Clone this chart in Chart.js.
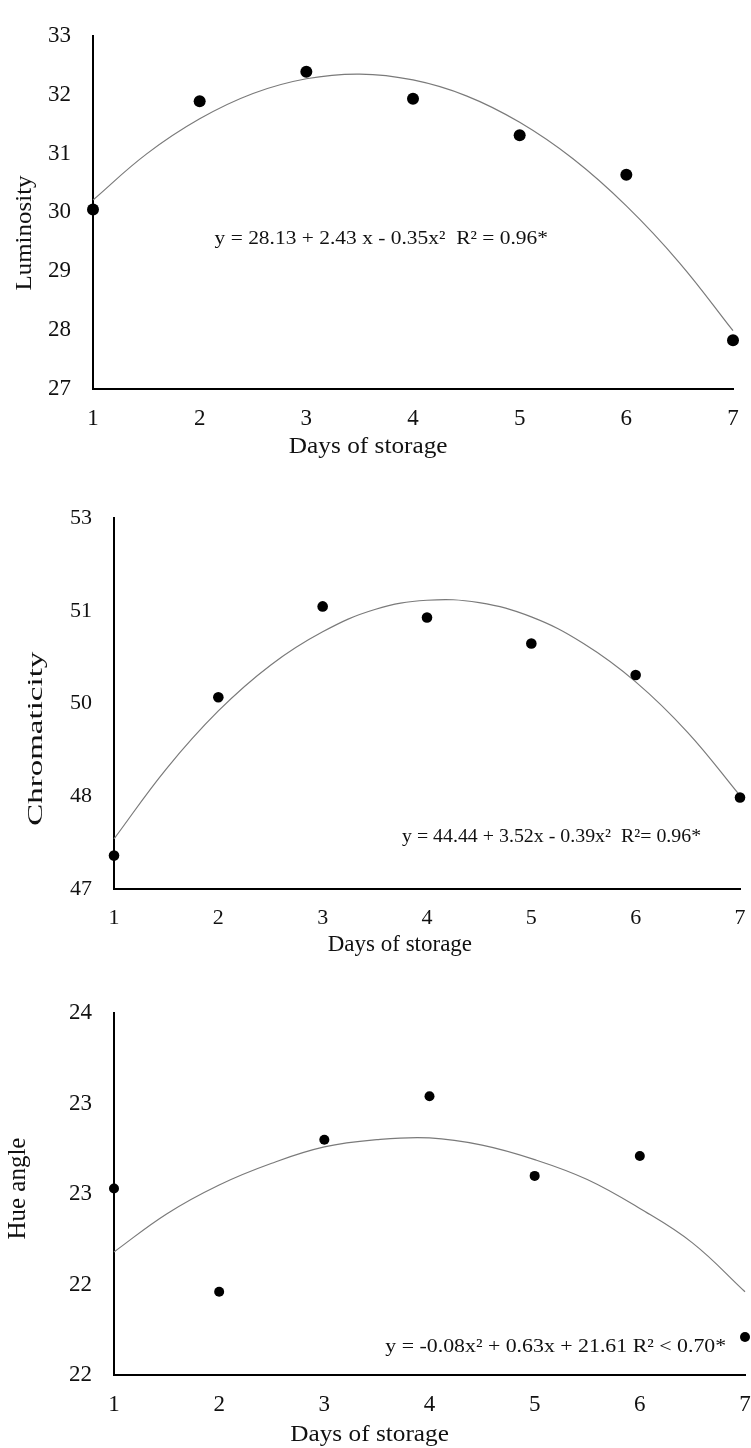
<!DOCTYPE html>
<html>
<head>
<meta charset="utf-8">
<script src="https://cdn.jsdelivr.net/npm/chart.js@4.4.0/dist/chart.umd.min.js"></script>
<style>
  html, body { margin: 0; padding: 0; background: #fff; overflow: hidden; }
  #page { position: relative; width: 751px; height: 1448px; overflow: hidden; }
  canvas { position: absolute; left: 0; }
</style>
</head>
<body>
<div id="page">
  <canvas id="c1" width="770" height="480" style="top:0px"></canvas>
  <canvas id="c2" width="770" height="480" style="top:480px"></canvas>
  <canvas id="c3" width="770" height="488" style="top:960px"></canvas>
</div>
<script>
// ── data ─────────────────────────────────────────
const days = [1, 2, 3, 4, 5, 6, 7];
const trendDays = [1, 1.5, 2, 2.5, 3, 3.5, 4, 4.5, 5, 5.5, 6, 6.5, 7];

// Luminosity
const lumPoints = [30.05, 31.89, 32.39, 31.93, 31.31, 30.64, 27.83];
const lumTrend = [30.21, 30.99, 31.59, 32.02, 32.27, 32.35, 32.25, 31.98, 31.53, 30.91, 30.11, 29.14, 27.99];
const lumTickValues = [27, 28, 29, 30, 31, 32, 33];
const lumTickLabels = ['27', '28', '29', '30', '31', '32', '33'];

// Chromaticity
const chrPoints = [47.54, 50.10, 51.57, 51.39, 50.97, 50.46, 48.48];
const chrTrend = [47.81, 48.94, 49.88, 50.62, 51.16, 51.52, 51.67, 51.63, 51.40, 50.97, 50.35, 49.53, 48.51];
const chrTickValues = [47, 48.5, 50, 51.5, 53];
const chrTickLabels = ['47', '48', '50', '51', '53'];

// Hue angle
const huePoints = [23.03, 22.46, 23.30, 23.54, 23.10, 23.21, 22.21];
const hueTrend = [22.68, 22.89, 23.05, 23.17, 23.26, 23.30, 23.31, 23.27, 23.19, 23.08, 22.92, 22.73, 22.46];
const hueTickValues = [22, 22.5, 23, 23.5, 24];
const hueTickLabels = ['22', '22', '23', '23', '24'];

const dayLabels = ['1', '2', '3', '4', '5', '6', '7'];

// ── setup ────────────────────────────────────────
const SERIF = '"Liberation Serif", "Times New Roman", serif';
Chart.defaults.font.family = SERIF;
Chart.defaults.color = '#111';

function drawText(ctx, text, px, py, size, sx, align, rot) {
  ctx.save();
  ctx.translate(px, py);
  ctx.rotate(rot);
  ctx.scale(sx, 1);
  ctx.font = size + 'px ' + SERIF;
  ctx.fillStyle = '#111';
  ctx.textAlign = align;
  ctx.textBaseline = 'middle';
  ctx.fillText(text, 0, 0);
  ctx.restore();
}

// equation + axis titles, placed along the scales
const textPlugin = {
  id: 'texts',
  afterDraw(chart, args, o) {
    const { ctx, chartArea, scales: { x, y } } = chart;
    const e = o.eq, xt = o.xTitle, yt = o.yTitle;
    drawText(ctx, e.text, x.getPixelForValue(e.x), y.getPixelForValue(e.y), e.size, e.sx, 'left', 0);
    drawText(ctx, xt.text, x.getPixelForValue(xt.x), chartArea.bottom + xt.dy, xt.size, xt.sx, 'center', 0);
    drawText(ctx, yt.text, yt.px, y.getPixelForValue(yt.y), yt.size, yt.sx, 'center', -Math.PI / 2);
  }
};

function drawPanel(id, o) {
  new Chart(document.getElementById(id), {
    type: 'scatter',
    data: {
      datasets: [
        {
          data: trendDays.map((d, i) => ({ x: d, y: o.trend[i] })),
          showLine: true,
          borderColor: '#7a7a7a',
          borderWidth: 1.2,
          pointRadius: 0,
          tension: 0.4,
          clip: false,
          order: 2
        },
        {
          data: days.map((d, i) => ({ x: d, y: o.points[i] })),
          pointRadius: o.r,
          pointHoverRadius: o.r,
          backgroundColor: '#000',
          borderColor: '#000',
          borderWidth: 0,
          clip: false,
          order: 1
        }
      ]
    },
    options: {
      responsive: false,
      animation: false,
      devicePixelRatio: 1,
      layout: { padding: { top: o.top, right: o.right, left: 0, bottom: 0 } },
      plugins: {
        legend: { display: false },
        tooltip: { enabled: false },
        texts: o.texts
      },
      scales: {
        x: {
          type: 'linear',
          min: 1, max: 7,
          afterBuildTicks: s => { s.ticks = days.map(v => ({ value: v })); },
          afterFit: s => { s.height = o.xh; },
          grid: { display: false, drawTicks: false },
          border: { display: true, color: '#000', width: 2 },
          ticks: {
            padding: o.xpad,
            font: { size: o.tick },
            callback: (v, i) => dayLabels[i]
          }
        },
        y: {
          type: 'linear',
          min: o.tickValues[0],
          max: o.tickValues[o.tickValues.length - 1],
          afterBuildTicks: s => { s.ticks = o.tickValues.map(v => ({ value: v })); },
          afterFit: s => { s.width = o.yw; },
          grid: { display: false, drawTicks: false },
          border: { display: true, color: '#000', width: 2 },
          ticks: {
            padding: 22,
            font: { size: o.tick },
            callback: (v, i) => o.tickLabels[i]
          }
        }
      }
    },
    plugins: [textPlugin]
  });
}

drawPanel('c1', {
  points: lumPoints, trend: lumTrend,
  tickValues: lumTickValues, tickLabels: lumTickLabels,
  r: 6, tick: 23, xpad: 16,
  top: 27, right: 37, yw: 93, xh: 91,
  texts: {
    eq: { text: 'y = 28.13 + 2.43 x - 0.35x²  R² = 0.96*', x: 2.14, y: 29.55, size: 19.5, sx: 1.1 },
    xTitle: { text: 'Days of storage', x: 3.58, dy: 58, size: 23, sx: 1.1 },
    yTitle: { text: 'Luminosity', px: 25, y: 29.65, size: 24, sx: 1.04 }
  }
});

drawPanel('c2', {
  points: chrPoints, trend: chrTrend,
  tickValues: chrTickValues, tickLabels: chrTickLabels,
  r: 5.3, tick: 22, xpad: 16,
  top: 38, right: 30, yw: 114, xh: 71,
  texts: {
    eq: { text: 'y = 44.44 + 3.52x - 0.39x²  R²= 0.96*', x: 3.76, y: 47.84, size: 19.5, sx: 1.02 },
    xTitle: { text: 'Days of storage', x: 3.74, dy: 56, size: 23, sx: 1.0 },
    yTitle: { text: 'Chromaticity', px: 36, y: 49.43, size: 22, sx: 1.5 }
  }
});

drawPanel('c3', {
  points: huePoints, trend: hueTrend,
  tickValues: hueTickValues, tickLabels: hueTickLabels,
  r: 5, tick: 23, xpad: 16,
  top: 53, right: 25, yw: 114, xh: 73,
  texts: {
    eq: { text: 'y = -0.08x² + 0.63x + 21.61 R² < 0.70*', x: 3.58, y: 22.155, size: 19.5, sx: 1.12 },
    xTitle: { text: 'Days of storage', x: 3.43, dy: 60, size: 23, sx: 1.1 },
    yTitle: { text: 'Hue angle', px: 18, y: 23.03, size: 25, sx: 1.0 }
  }
});
</script>
</body>
</html>
